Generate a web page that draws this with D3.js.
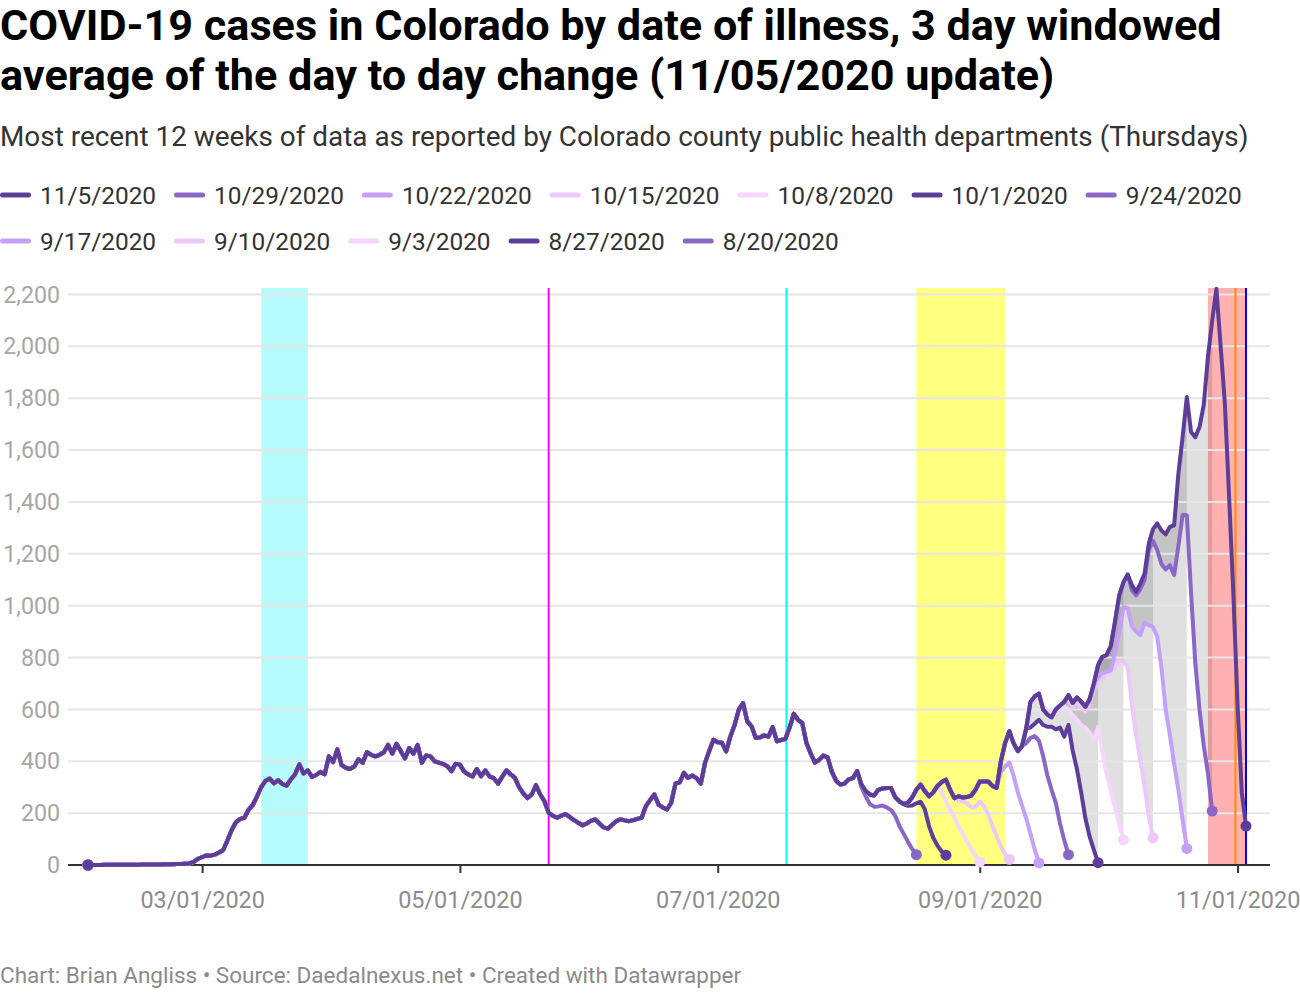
<!DOCTYPE html>
<html>
<head>
<meta charset="utf-8">
<script src="https://cdn.jsdelivr.net/npm/d3@7"></script>
<style>
  body { margin: 0; background: #fff; }
  svg { font-family: Roboto, sans-serif; }
  .title { font-size: 43.2px; font-weight: 700; fill: #000; }
  .subtitle { font-size: 27.9px; fill: #333; }
  .legend text { font-size: 24.4px; fill: #333; }
  .ylab { font-size: 23.2px; fill: #a6a6a6; }
  .xaxis text { font-size: 23.4px; fill: #8c8c8c; }
  .footer { font-size: 22.5px; fill: #8a8a8a; }
</style>
</head>
<body>
<svg id="chart" width="1300" height="1000"></svg>
<script>
// 11/5/2020 report, one value per day, starting 2020-02-03
var firstDay = "2020-02-03";
var feb = [0,0,0,0,1,1,1,1,1,1,1,1,1,2,2,2,2,2,3,3,3,4,4,5,6,12,24];
var mar = [30,37,36,40,48,58,95,135,165,178,182,213,232,265,300,325,333,315,327,312,306,330,350,388,353,365,340,347,359,350,419];
var apr = [397,446,385,375,370,380,408,394,435,425,419,425,435,463,429,467,440,411,451,429,463,394,422,419,400,395,390,381,362,390];
var may = [387,360,349,341,370,342,365,342,335,314,340,365,350,336,300,276,258,272,308,272,246,201,190,182,190,196,185,173,163,153,160];
var jun = [170,176,160,145,140,155,169,176,172,169,173,178,182,227,250,272,233,222,214,240,314,319,355,336,345,335,314,394,440,483];
var jul = [473,471,438,496,540,600,624,554,535,490,492,500,495,532,477,482,486,530,583,560,547,470,430,395,405,422,415,360,325,310,314];
var aug = [330,335,362,310,285,272,268,290,295,297,297,262,245,235,240,260,290,310,285,265,280,305,320,329,290,258,265,260,262,268,290];
var sep = [322,322,322,305,297,400,470,516,470,439,458,527,629,650,661,600,580,569,600,615,629,655,625,646,630,610,640,700,771,803];
var oct = [809,844,938,1040,1090,1120,1080,1053,1085,1124,1240,1295,1317,1290,1275,1304,1310,1509,1650,1805,1670,1650,1689,1773,1960,2100,2222,2000,1780,1420,1050];
var nov = [620,280,150];

// older reports: same as the latest report up to tailStart, then these values
var reports = ["11/5/2020","10/29/2020","10/22/2020","10/15/2020","10/8/2020","10/1/2020",
               "9/24/2020","9/17/2020","9/10/2020","9/3/2020","8/27/2020","8/20/2020"];
var tailStart = [null,"2020-10-07","2020-09-27","2020-09-22","2020-09-15","2020-09-13",
                 "2020-09-12","2020-09-06","2020-08-27","2020-08-23","2020-08-15","2020-08-04"];
var t1029 = [1060,1040,1065,1100,1215,1250,1214,1160,1140,1156,1118,1230,1350,1349,1050,780,600,460,353,208];
var t1022 = [630,690,730,740,745,751,820,893,995,990,920,900,886,935,925,918,880,760,600,500,390,290,175,64];
var t1015 = [640,610,625,605,590,620,680,700,713,740,745,764,790,783,764,620,500,405,300,190,105];
var t1008 = [640,610,590,590,605,615,610,600,578,560,540,530,510,485,533,440,350,285,220,155,96];
var t1001 = [530,545,560,540,533,533,523,530,495,540,440,370,280,180,110,58,9];
var t0924 = [470,490,497,480,420,345,290,240,160,95,40];
var t0917 = [360,380,395,345,280,230,180,120,60,8];
var t0910 = [250,245,238,222,225,245,228,195,150,110,70,42,22];
var t0903 = [280,245,215,185,150,120,90,60,35,12];
var t0827 = [228,229,238,244,215,150,105,75,52,38];
var t0820 = [300,265,235,225,226,229,222,212,190,150,120,90,62,40];
var tails = [null,t1029,t1022,t1015,t1008,t1001,t0924,t0917,t0910,t0903,t0827,t0820];
// reports whose gap to the latest report is shaded
var shaded = ["10/29/2020","10/22/2020","10/15/2020","10/8/2020","10/1/2020"];

var tickDates = ["2020-03-01","2020-05-01","2020-07-01","2020-09-01","2020-11-01"];
var yTicks = [0,200,400,600,800,1000,1200,1400,1600,1800,2000,2200];

var colors = ["#5c3d98","#8a66c6","#c4a0f6","#ebc9fa","#f6d6fb"];

var parse = d3.timeParse("%Y-%m-%d");
var first = parse(firstDay);
var latest = [].concat(feb, mar, apr, may, jun, jul, aug, sep, oct, nov);

function fromDay(start, vals) {
  return vals.map(function(v, i) { return {date: d3.timeDay.offset(start, i), value: v}; });
}
var latestSeries = fromDay(first, latest);
var allSeries = reports.map(function(r, i) {
  if (i == 0) return latestSeries;
  var s = parse(tailStart[i]);
  var n = d3.timeDay.count(first, s);
  return latestSeries.slice(0, n).concat(fromDay(s, tails[i]));
});

var svg = d3.select("#chart");
var plotLeft = 68, plotRight = 1270, plotTop = 288, plotBottom = 865;

var x = d3.scaleTime()
  .domain([first, latestSeries[latestSeries.length - 1].date])
  .range([88, 1246]);
var y = d3.scaleLinear().domain([0, 2225]).range([plotBottom, plotTop]);

// header
var title = svg.append("text").attr("class", "title").attr("x", 0).attr("y", 40);
title.append("tspan").attr("x", 0).text("COVID-19 cases in Colorado by date of illness, 3 day windowed");
title.append("tspan").attr("x", 0).attr("dy", 50).text("average of the day to day change (11/05/2020 update)");
svg.append("text").attr("class", "subtitle").attr("x", 0).attr("y", 146)
  .text("Most recent 12 weeks of data as reported by Colorado county public health departments (Thursdays)");

// legend
var legend = svg.append("g").attr("class", "legend");
var lx = 0, ly = 195;
reports.forEach(function(r, i) {
  var g = legend.append("g");
  var t = g.append("text").attr("x", 40).attr("y", 8.7).text(r);
  var w = 40 + t.node().getComputedTextLength();
  if (lx + w > 1300) { lx = 0; ly += 46; }
  g.attr("transform", "translate(" + lx + "," + ly + ")");
  g.append("line").attr("x1", 2.5).attr("x2", 28.5).attr("y1", 0).attr("y2", 0)
    .attr("stroke", colors[i % 5]).attr("stroke-width", 5).attr("stroke-linecap", "round");
  lx += w + 18;
});

// highlighted ranges
var bands = [["2020-03-15","2020-03-26","#b6fcfc"],["2020-08-17","2020-09-07","#ffff80"],["2020-10-25","2020-11-03","#ffb1b1"]];
bands.forEach(function(b) {
  svg.append("rect").attr("x", x(parse(b[0]))).attr("y", plotTop)
    .attr("width", x(parse(b[1])) - x(parse(b[0]))).attr("height", plotBottom - plotTop)
    .attr("fill", b[2]);
});

// gap between latest and older reports
var area = d3.area()
  .x(function(d) { return x(d.date); })
  .y0(function(d) { return y(d.base); })
  .y1(function(d) { return y(d.value); });
shaded.forEach(function(r) {
  var s = allSeries[reports.indexOf(r)];
  var pts = s.map(function(d, i) { return {date: d.date, value: d.value, base: latestSeries[i].value}; });
  svg.append("path").attr("d", area(pts)).attr("fill", "#000").attr("fill-opacity", 0.12);
});

// grid
yTicks.forEach(function(v) {
  if (v > 0) {
    svg.append("line").attr("x1", plotLeft).attr("x2", plotRight).attr("y1", y(v)).attr("y2", y(v))
      .attr("stroke", "#e6e6e6").attr("stroke-width", 2);
  }
  svg.append("text").attr("class", "ylab").attr("x", 60).attr("y", y(v)).attr("dy", "0.35em")
    .attr("text-anchor", "end").text(d3.format(",")(v));
});

// marker lines
var marks = [["2020-05-22 00","#ff00ff"],["2020-07-17 06","#00ffff"],["2020-10-31 12","#ff8c00"],["2020-11-03 00","#0000ff"]];
var parseH = d3.timeParse("%Y-%m-%d %H");
marks.forEach(function(m) {
  var mx = x(parseH(m[0]));
  svg.append("line").attr("x1", mx).attr("x2", mx).attr("y1", plotTop).attr("y2", plotBottom)
    .attr("stroke", m[1]).attr("stroke-width", 2);
});

// x axis
var xAxis = svg.append("g").attr("class", "xaxis").attr("transform", "translate(0," + plotBottom + ")")
  .call(d3.axisBottom(x).tickValues(tickDates.map(parse)).tickFormat(d3.timeFormat("%m/%d/%Y"))
    .tickSize(8).tickPadding(18));
xAxis.select(".domain").remove();
xAxis.selectAll(".tick line").attr("stroke", "#333").attr("stroke-width", 2);
xAxis.selectAll("text").style("font-family", "Roboto, sans-serif");
svg.append("line").attr("x1", plotLeft).attr("x2", plotRight).attr("y1", plotBottom).attr("y2", plotBottom)
  .attr("stroke", "#333").attr("stroke-width", 2);

// lines, oldest first so the latest report sits on top
var line = d3.line().x(function(d) { return x(d.date); }).y(function(d) { return y(d.value); });
for (var i = reports.length - 1; i >= 0; i--) {
  var s = allSeries[i];
  var c = colors[i % 5];
  svg.append("path").attr("d", line(s)).attr("fill", "none").attr("stroke", c)
    .attr("stroke-width", 4).attr("stroke-linejoin", "round").attr("stroke-linecap", "round");
  svg.append("circle").attr("cx", x(s[0].date)).attr("cy", y(s[0].value)).attr("r", 5.5).attr("fill", c);
  var e = s[s.length - 1];
  svg.append("circle").attr("cx", x(e.date)).attr("cy", y(e.value)).attr("r", 5.5).attr("fill", c);
}

svg.append("text").attr("class", "footer").attr("x", 0).attr("y", 983)
  .text("Chart: Brian Angliss \u2022 Source: Daedalnexus.net \u2022 Created with Datawrapper");
</script>
</body>
</html>
